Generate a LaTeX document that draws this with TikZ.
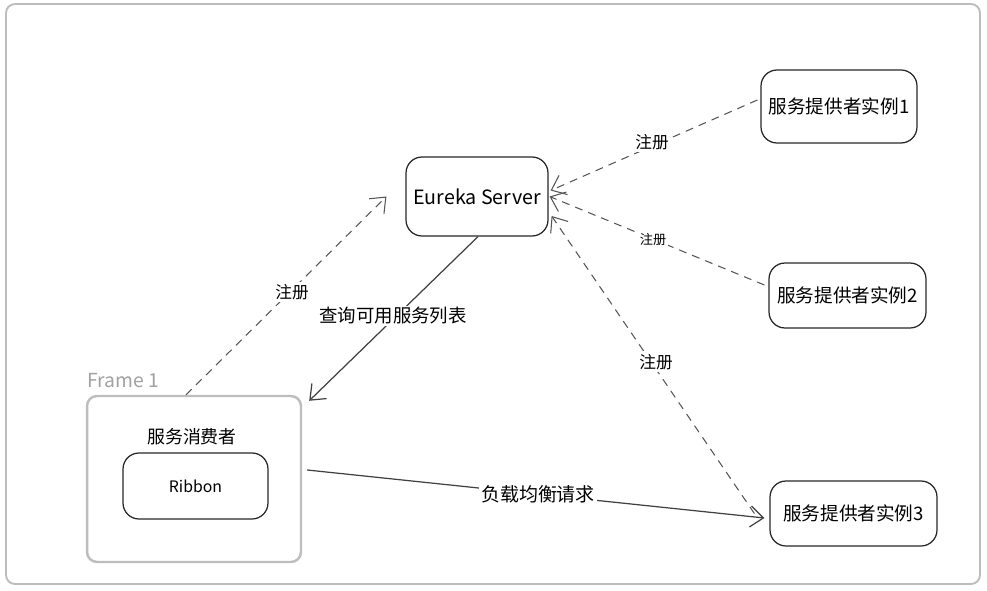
\documentclass[tikz,border=0pt]{standalone}
\usepackage{fontspec}
\setmainfont{Noto Sans CJK SC}
\usepackage{xcolor}
\usepackage{tikz}
\usetikzlibrary{arrows.meta}

\definecolor{framegray}{HTML}{BDBDBD}
\definecolor{linegray}{HTML}{555555}

\begin{document}
\begin{tikzpicture}[x=0.02cm, y=-0.02cm,
  box/.style={draw=black!85, line width=0.7pt, rounded corners=0.32cm, font=\fontsize{10.6}{12}\selectfont},
  frm/.style={draw=framegray, line width=1.4pt, rounded corners=0.2cm},
  reg/.style={draw=linegray, line width=0.6pt, dash pattern=on 4.5pt off 3.5pt, -{Straight Barb[length=2.6mm,width=4.2mm]}},
  req/.style={draw=black!75, line width=0.7pt, -{Straight Barb[length=2.6mm,width=4.2mm]}},
  lbl/.style={fill=white, inner sep=1pt, font=\fontsize{9.5}{11}\selectfont}]
\useasboundingbox (0,0) rectangle (987,591);
\draw[draw=framegray, line width=1.1pt, rounded corners=0.18cm] (6,4) rectangle (980,584);

\node[box, minimum width=2.84cm, minimum height=1.58cm, font=\fontsize{11.2}{13}\selectfont] (E) at (477,196.5) {Eureka Server};
\node[box, minimum width=3.12cm, minimum height=1.46cm] (P1) at (839,106.5) {服务提供者实例1};
\node[box, minimum width=3.14cm, minimum height=1.3cm] (P2) at (847.5,295.5) {服务提供者实例2};
\node[box, minimum width=3.34cm, minimum height=1.3cm] (P3) at (853.5,513.5) {服务提供者实例3};

\node[frm, minimum width=4.28cm, minimum height=3.32cm] (F) at (194,479) {};
\node[anchor=west, inner sep=0pt, text=framegray!85!black, font=\fontsize{11}{13}\selectfont] (FL) at (87,381) {Frame 1};
\node[font=\fontsize{10.2}{12}\selectfont] (FT) at (192,437) {服务消费者};
\node[box, minimum width=2.9cm, minimum height=1.32cm, font=\fontsize{9}{10}\selectfont] (R) at (195.5,486) {Ribbon};

\draw[reg] ([xshift=-0.16cm]F.north) -- ([xshift=-0.38cm]E.west);
\draw[req] ([xshift=0.02cm]E.south) -- ([shift={(0.14cm,-0.12cm)}]F.north east);
\draw[reg] ([shift={(-0.06cm,0.13cm)}]P1.west) -- ([shift={(0.04cm,0.12cm)}]E.east);
\draw[reg] ([shift={(-0.08cm,0.21cm)}]P2.west) -- ([xshift=0.02cm]E.east);
\draw[reg] ([xshift=-0.3cm]P3.west) -- ([shift={(0.06cm,-0.39cm)}]E.east);
\draw[req] ([shift={(0.1cm,0.18cm)}]F.east) -- ([shift={(-0.1cm,-0.09cm)}]P3.west);

\node[lbl] (L1) at (292,292) {注册};
\node[lbl, font=\fontsize{10.5}{12}\selectfont] (L2) at (393,316) {查询可用服务列表};
\node[lbl] (L3) at (652,142) {注册};
\node[lbl, font=\fontsize{7.5}{9}\selectfont] (L4) at (653,240) {注册};
\node[lbl] (L5) at (656,362) {注册};
\node[lbl, font=\fontsize{10.8}{12}\selectfont] (L6) at (538,494) {负载均衡请求};
\end{tikzpicture}
\end{document}
